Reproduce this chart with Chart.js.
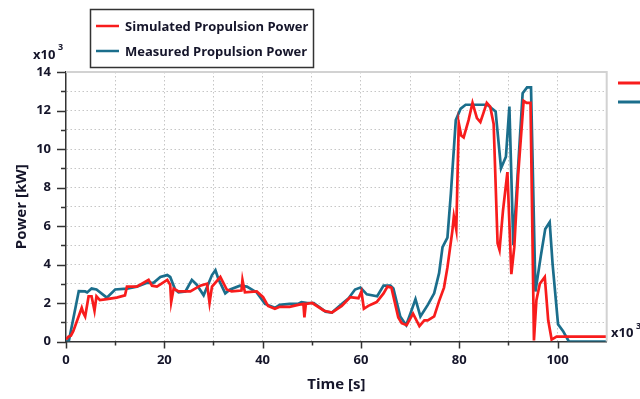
<!DOCTYPE html>
<html>
<head>
<meta charset="utf-8">
<script src="https://cdn.jsdelivr.net/npm/chart.js@4.4.1/dist/chart.umd.min.js"></script>
<style>
  html, body { margin: 0; padding: 0; background: #fff; }
  #wrap { width: 640px; height: 399px; position: relative; }
</style>
</head>
<body>
<div id="wrap"><canvas id="powerChart" width="640" height="399"></canvas></div>
<script>
// values (time in s, power in x10^3 kW)
var simTime = [0, 0.5, 1, 1.5, 3.2, 3.5, 3.9, 4.6, 5.2, 5.8, 6.2, 6.9, 8.3, 10.3, 12, 12.4, 14.4, 16.8, 17.5, 18.5,
  20.6, 21.2, 21.4, 21.9, 22.9, 25.3, 27.3, 28.7, 29.2, 29.7, 31.4, 32.7, 33.7, 35.7, 35.9, 36.4, 38.8, 40.1, 41.1, 42.5,
  43.5, 45.5, 47.2, 48.3, 48.5, 48.8, 50.1, 52.5, 54.1, 56.1, 57.8, 59.5, 60.1, 60.6, 61.5, 63.2, 64.6, 65.4, 66.2, 67.6,
  68.3, 69.3, 70.6, 71.9, 72.9, 73.6, 74.9, 75.9, 76.9, 77.6, 78.6, 78.9, 79.4, 79.9, 80.4, 80.9, 81.9, 82.7, 83.6, 84.3,
  84.9, 85.6, 86.3, 87, 87.8, 88.2, 88.9, 89.8, 90.6, 91.2, 92, 93.1, 93.7, 94.5, 95.2, 95.7, 96.4, 97.4, 98.1, 98.8,
  99.8, 110];
var simPower = [0.1, 0.25, 0.3, 0.55, 1.75, 1.5, 1.3, 2.35, 2.35, 1.6, 2.35, 2.15, 2.2, 2.28, 2.4, 2.85, 2.85, 3.2, 2.9, 2.85,
  3.2, 2.95, 2.05, 2.75, 2.6, 2.6, 2.9, 3.0, 2.0, 2.85, 3.35, 2.7, 2.6, 2.65, 3.2, 2.55, 2.6, 2.3, 1.85, 1.7,
  1.8, 1.8, 1.9, 1.95, 1.25, 1.95, 2.0, 1.6, 1.5, 1.85, 2.3, 2.25, 2.6, 1.7, 1.85, 2.05, 2.5, 2.85, 2.8, 1.25,
  0.95, 0.85, 1.45, 0.8, 1.1, 1.1, 1.3, 2.1, 2.8, 3.85, 5.75, 6.5, 5.8, 11.35, 10.7, 10.6, 11.5, 12.4, 11.6, 11.4,
  11.85, 12.4, 12.2, 11.3, 5.1, 4.75, 6.8, 8.8, 3.5, 4.9, 8.7, 12.5, 12.4, 12.4, 0.05, 2.15, 3.0, 3.35, 1.1, 0.1,
  0.25, 0.25];

var measTime = [0, 0.6, 2.6, 3.9, 4.3, 5.2, 6.2, 8.3, 10, 12.4, 14.4, 16.5, 17.8, 19.2, 20.6, 21.2, 22.2, 22.9, 24.3, 25.6,
  26.6, 28, 29.7, 30.4, 31, 32.4, 33.4, 35.4, 36.8, 38.8, 40.5, 42.5, 43.5, 45.5, 47.2, 47.9, 49.1, 50.4, 52.8, 54.1,
  56.1, 57.5, 58.8, 59.9, 61.2, 63.3, 64.6, 66, 66.6, 68, 69.2, 70, 71.1, 72.1, 73.6, 74.9, 75.9, 76.6, 77.6, 78.3,
  79.3, 80.3, 81.3, 85.7, 87.4, 88.5, 89.5, 90.2, 91, 92.9, 93.8, 94.6, 95.5, 96.6, 97.5, 98.4, 99, 100.1, 101.1, 102.3,
  110];
var measPower = [0, 0.05, 2.62, 2.6, 2.55, 2.75, 2.7, 2.28, 2.7, 2.75, 2.85, 3.05, 3.05, 3.35, 3.45, 3.35, 2.7, 2.55, 2.6, 3.2,
  2.95, 2.4, 3.45, 3.7, 3.25, 2.5, 2.7, 2.9, 2.85, 2.55, 1.95, 1.75, 1.9, 1.95, 1.95, 2.05, 2.0, 2.0, 1.55, 1.5,
  1.95, 2.25, 2.7, 2.8, 2.45, 2.35, 2.9, 2.9, 2.75, 1.3, 0.85, 1.4, 2.2, 1.3, 1.9, 2.5, 3.55, 4.9, 5.4, 7.7,
  11.5, 12.1, 12.3, 12.3, 11.95, 9.0, 9.6, 12.2, 5.0, 12.9, 13.2, 13.2, 2.6, 4.45, 5.85, 6.2, 4.0, 0.9, 0.55, 0,
  0];

var seriesNames = ['Simulated Propulsion Power', 'Measured Propulsion Power'];
var timeTicks = [0, 20, 40, 60, 80, 100];
var powerTicks = [0, 2, 4, 6, 8, 10, 12, 14];

var simColor = '#f81c1c';
var measColor = '#1b6e8c';
var textColor = '#15152a';
var fontFam = '"Open Sans", "Noto Sans", sans-serif';

function toPoints(xs, ys) {
  var pts = [];
  for (var i = 0; i < xs.length; i++) pts.push({ x: xs[i], y: ys[i] });
  return pts;
}

/* extra drawing: tick marks, legend box, frame, x10^3 notes */
var decorPlugin = {
  id: 'decor',
  afterDraw: function(chart) {
    var c = chart.ctx;
    var a = chart.chartArea;
    var xs = chart.scales.x, ys = chart.scales.y;
    c.save();

    // light frame on top and right
    c.strokeStyle = '#d2d2d2';
    c.lineWidth = 2;
    c.beginPath();
    c.moveTo(a.left, a.top);
    c.lineTo(a.right, a.top);
    c.lineTo(a.right, a.bottom);
    c.stroke();

    // tick marks
    c.strokeStyle = '#333';
    c.lineWidth = 1.5;
    c.beginPath();
    ys.ticks.forEach(function(t) {
      var py = Math.round(ys.getPixelForValue(t.value)) + 0.5;
      var len = powerTicks.indexOf(t.value) >= 0 ? 9 : 5;
      c.moveTo(a.left, py);
      c.lineTo(a.left - len, py);
    });
    xs.ticks.forEach(function(t) {
      if (t.value > 100) return;
      var px = Math.round(xs.getPixelForValue(t.value)) + 0.5;
      var len = timeTicks.indexOf(t.value) >= 0 ? 7 : 4;
      c.moveTo(px, a.bottom);
      c.lineTo(px, a.bottom + len);
    });
    c.stroke();

    // legend box
    c.fillStyle = '#fff';
    c.fillRect(90, 9, 223, 58);
    c.strokeStyle = '#333';
    c.lineWidth = 1.5;
    c.strokeRect(90.5, 9.5, 223, 58);
    var rows = [26, 51];
    chart.data.datasets.forEach(function(ds, i) {
      c.strokeStyle = ds.borderColor;
      c.lineWidth = 2.5;
      c.beginPath();
      c.moveTo(96, rows[i]);
      c.lineTo(119, rows[i]);
      c.stroke();
      c.fillStyle = textColor;
      c.font = 'bold 13px ' + fontFam;
      c.textAlign = 'left';
      c.textBaseline = 'middle';
      c.fillText(ds.label, 125, rows[i] + 1);
    });

    // second legend, cut off at right edge
    var rows2 = [83, 102];
    chart.data.datasets.forEach(function(ds, i) {
      c.strokeStyle = ds.borderColor;
      c.lineWidth = 3;
      c.beginPath();
      c.moveTo(618, rows2[i]);
      c.lineTo(645, rows2[i]);
      c.stroke();
    });

    // x10^3 notes
    c.fillStyle = textColor;
    c.textBaseline = 'middle';
    c.textAlign = 'left';
    c.font = 'bold 13px ' + fontFam;
    c.fillText('x10', 33, 55);
    c.fillText('x10', 611, 333);
    c.font = 'bold 9px ' + fontFam;
    c.fillText('3', 58, 47);
    c.fillText('3', 636, 326);
    c.restore();
  }
};

var gridColor = function(edgeMax) {
  return function(ctx) {
    var v = ctx.tick ? ctx.tick.value : null;
    if (v === 0 || v === edgeMax) return 'rgba(0,0,0,0)';
    return '#c6c6c6';
  };
};

new Chart(document.getElementById('powerChart'), {
  type: 'scatter',
  data: {
    datasets: [
      {
        label: seriesNames[0],
        data: toPoints(simTime, simPower),
        borderColor: simColor,
        backgroundColor: simColor,
        borderWidth: 2.7,
        showLine: true,
        pointRadius: 0,
        tension: 0
      },
      {
        label: seriesNames[1],
        data: toPoints(measTime, measPower),
        borderColor: measColor,
        backgroundColor: measColor,
        borderWidth: 2.7,
        showLine: true,
        pointRadius: 0,
        tension: 0
      }
    ]
  },
  options: {
    responsive: false,
    animation: false,
    devicePixelRatio: 1,
    layout: { padding: { top: 72, right: 33.3, left: 0, bottom: 0 } },
    plugins: {
      legend: { display: false },
      tooltip: { enabled: false }
    },
    scales: {
      x: {
        type: 'linear',
        min: 0,
        max: 110,
        afterFit: function(s) { s.height = 57.5; },
        grid: { color: gridColor(110), lineWidth: 1, drawTicks: false },
        border: { color: '#333', width: 1.5, dash: [1.5, 2.5] },
        ticks: {
          stepSize: 10,
          autoSkip: false,
          maxRotation: 0,
          padding: 11,
          color: textColor,
          font: { size: 13, weight: 'bold', family: fontFam },
          callback: function(v) { return timeTicks.indexOf(v) >= 0 ? String(v) : ''; }
        },
        title: {
          display: true,
          text: 'Time [s]',
          color: textColor,
          font: { size: 15, weight: 'bold', family: fontFam },
          padding: { top: 0, bottom: 5 }
        }
      },
      y: {
        min: 0,
        max: 14,
        afterFit: function(s) { s.width = 66; },
        grid: { color: gridColor(14), lineWidth: 1, drawTicks: false },
        border: { color: '#333', width: 1.5, dash: [1.5, 2.5] },
        ticks: {
          stepSize: 1,
          autoSkip: false,
          padding: 15,
          color: textColor,
          font: { size: 13, weight: 'bold', family: fontFam },
          callback: function(v) { return powerTicks.indexOf(v) >= 0 ? String(v) : ''; }
        },
        title: {
          display: true,
          text: 'Power [kW]',
          color: textColor,
          font: { size: 15, weight: 'bold', family: fontFam },
          padding: { top: 13, bottom: 0 }
        }
      }
    }
  },
  plugins: [decorPlugin]
});
</script>
</body>
</html>
